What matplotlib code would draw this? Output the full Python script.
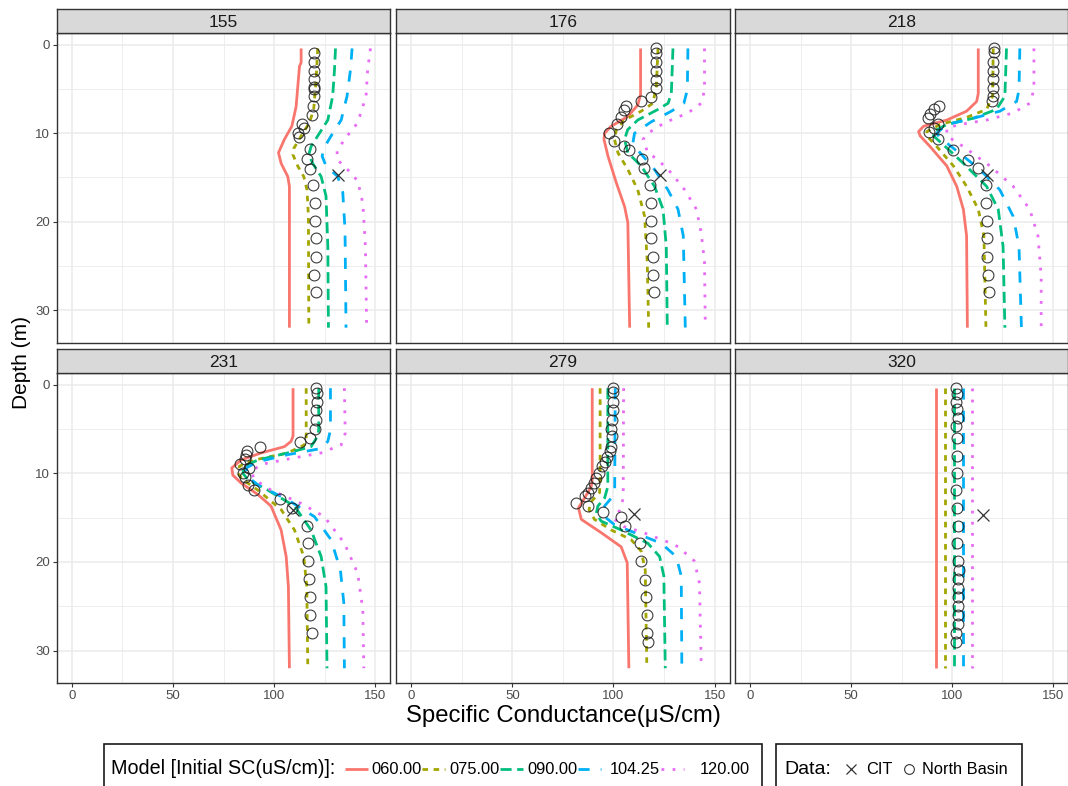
import matplotlib
matplotlib.use("Agg")
import matplotlib.pyplot as plt
from matplotlib.lines import Line2D
from matplotlib.patches import Rectangle

plt.rcParams['font.family'] = ['Liberation Sans', 'DejaVu Sans']

# ---------------- data ----------------
panels = ["155", "176", "218", "231", "279", "320"]
models = ["060.00", "075.00", "090.00", "104.25", "120.00"]
colors = ["#F8766D", "#A3A500", "#00BF7D", "#00B0F6", "#E76BF3"]

# model curves: (depth m, specific conductance)
m155_060 = [(0.4,113.4),(2.0,113.4),(2.4,112.6),(7.0,110.9),(9.2,108.8),(10.7,105.1),(12.2,102.2),(13.4,103.5),(14.9,106.8),(16.0,107.6),(32.0,107.6)]
m155_075 = [(0.4,121.6),(4.0,120.8),(7.3,119.6),(8.8,117.5),(10.3,113.4),(11.7,109.8),(12.4,109.3),(13.7,111.7),(14.9,114.7),(16.4,116.3),(19.4,117.0),(32.0,117.2)]
m155_090 = [(0.4,130.4),(2.8,129.9),(5.8,129.0),(8.5,126.6),(10.3,121.6),(11.5,118.3),(12.4,117.2),(13.4,119.1),(14.9,123.3),(17.1,125.7),(22.8,126.6),(32.0,126.9)]
m155_104 = [(0.4,138.6),(2.8,137.8),(5.8,136.1),(8.5,133.2),(10.3,128.2),(11.7,124.6),(12.6,123.8),(13.7,125.7),(14.9,131.5),(16.7,134.0),(20.9,135.1),(32.0,135.6)]
m155_120 = [(0.4,147.7),(2.8,146.3),(5.8,145.5),(8.8,141.4),(10.7,134.8),(12.0,131.2),(13.0,131.2),(13.7,134.8),(15.4,141.4),(17.9,143.9),(22.8,145.2),(32.0,145.8)]

m176_060 = [(0.4,113.4),(5.6,113.4),(6.8,112.0),(8.1,107.1),(9.2,98.9),(10.0,95.6),(10.7,95.3),(12.6,97.3),(15.6,101.4),(18.3,105.5),(20.1,107.1),(32.0,108.0)]
m176_075 = [(0.4,122.0),(4.7,121.2),(6.6,119.5),(7.5,113.7),(8.5,105.5),(9.6,101.4),(10.7,100.5),(12.2,102.2),(14.1,107.1),(16.4,112.0),(19.4,115.4),(24.6,116.7),(32.0,117.4)]
m176_090 = [(0.4,129.4),(5.5,128.6),(6.6,127.0),(7.3,122.0),(8.5,112.0),(9.6,107.0),(10.7,105.5),(12.2,107.1),(13.7,113.7),(16.0,120.3),(18.6,124.5),(22.8,126.1),(32.0,126.6)]
m176_104 = [(0.4,136.8),(5.1,136.5),(6.6,134.8),(7.5,128.6),(8.7,118.7),(10.0,110.4),(11.1,109.6),(11.9,112.0),(14.1,120.3),(16.4,126.9),(18.6,131.9),(21.6,134.5),(32.0,135.5)]
m176_120 = [(0.4,145.0),(5.1,145.0),(6.6,143.4),(7.7,136.8),(8.8,125.3),(10.0,117.0),(10.7,114.6),(12.2,117.0),(13.0,122.0),(14.5,128.6),(16.4,135.2),(18.6,141.0),(21.3,143.4),(24.6,145.0),(32.0,145.4)]

m218_060 = [(0.4,113.0),(5.5,113.0),(6.4,112.2),(7.5,107.2),(8.5,97.4),(9.2,85.9),(9.8,83.4),(10.3,84.2),(11.5,89.1),(13.7,97.4),(16.0,102.3),(18.6,105.6),(21.6,107.2),(32.0,107.6)]
m218_075 = [(0.4,120.4),(5.8,120.1),(7.3,117.1),(8.2,107.2),(9.0,94.1),(9.8,87.5),(10.3,87.5),(11.5,92.4),(13.7,100.7),(16.0,107.2),(18.6,113.0),(21.6,115.8),(32.0,116.8)]
m218_090 = [(0.4,127.0),(5.8,126.2),(7.3,122.0),(8.3,110.5),(9.0,97.4),(9.8,90.8),(10.3,90.8),(11.3,95.7),(13.4,105.6),(16.0,117.1),(18.6,122.9),(22.8,125.3),(32.0,126.2)]
m218_104 = [(0.4,133.6),(5.1,133.2),(6.4,132.0),(7.5,123.7),(8.4,108.9),(9.0,97.4),(10.0,92.4),(10.5,94.0),(11.7,100.7),(14.1,113.8),(16.4,123.7),(19.4,130.3),(22.8,133.2),(32.0,134.4)]
m218_120 = [(0.4,140.6),(5.1,140.6),(6.6,138.5),(7.7,130.3),(8.5,117.1),(9.0,104.0),(9.4,97.4),(10.3,97.4),(11.5,105.6),(13.7,118.8),(16.0,130.3),(18.6,138.5),(21.6,142.6),(26.2,144.2),(32.0,144.2)]

m231_060 = [(0.4,109.4),(5.8,109.4),(6.4,108.4),(7.0,105.1),(7.7,93.6),(8.5,83.7),(9.4,79.1),(10.2,79.6),(11.1,83.7),(12.4,92.0),(13.7,98.5),(16.4,103.5),(19.4,106.0),(22.8,107.1),(32.0,107.6)]
m231_075 = [(0.4,115.9),(6.2,115.9),(6.8,115.0),(7.7,106.8),(8.5,90.3),(9.2,82.9),(10.0,82.1),(10.7,84.5),(11.9,92.0),(14.1,103.5),(16.4,110.1),(19.4,114.7),(22.8,116.2),(32.0,116.7)]
m231_090 = [(0.4,122.1),(5.1,122.1),(5.8,121.6),(7.0,118.3),(7.7,106.8),(8.5,92.0),(9.2,85.4),(10.0,84.6),(10.7,87.0),(11.9,96.9),(13.7,110.1),(16.4,118.3),(19.4,123.3),(22.8,125.7),(32.0,126.2)]
m231_104 = [(0.4,127.9),(5.1,127.9),(6.4,126.6),(7.2,123.3),(7.9,106.8),(8.7,92.0),(9.4,86.2),(10.4,87.0),(11.3,92.0),(13.0,106.8),(14.9,120.0),(17.5,128.2),(20.9,132.8),(24.6,134.5),(32.0,134.8)]
m231_120 = [(0.4,134.8),(5.5,135.2),(6.8,133.2),(7.7,123.3),(8.4,106.8),(9.0,93.6),(9.8,88.7),(10.7,90.3),(11.9,98.5),(13.4,113.4),(14.9,124.9),(17.9,134.8),(21.3,141.4),(25.4,143.9),(32.0,144.4)]

m279_060 = [(0.4,89.5),(10.7,89.5),(11.5,89.0),(12.8,85.7),(13.9,82.7),(15.2,84.1),(16.7,93.9),(18.3,103.8),(20.1,106.8),(32.0,107.6)]
m279_075 = [(0.4,93.4),(11.1,93.4),(12.2,93.1),(13.2,89.0),(14.1,87.9),(15.2,90.6),(16.4,98.9),(17.5,108.8),(18.8,113.7),(20.9,115.7),(32.0,116.5)]
m279_090 = [(0.4,97.2),(11.5,97.2),(12.8,95.6),(13.7,92.3),(14.5,91.5),(15.4,93.9),(16.4,103.8),(17.9,117.0),(19.4,122.8),(21.6,124.9),(32.0,125.6)]
m279_104 = [(0.4,100.9),(11.7,100.6),(12.8,98.9),(13.7,95.6),(14.9,95.6),(15.8,100.5),(16.7,110.4),(17.9,123.6),(19.4,131.0),(21.6,133.5),(32.0,133.8)]
m279_120 = [(0.4,105.0),(12.8,104.8),(14.0,103.5),(15.2,100.5),(16.0,105.0),(16.6,113.7),(17.9,128.5),(18.3,132.0),(19.9,140.0),(22.4,142.5),(32.0,143.4)]

m320_060 = [(0.4,92.1),(32.0,92.1)]
m320_075 = [(0.4,96.5),(32.0,96.5)]
m320_090 = [(0.4,101.0),(32.0,101.0)]
m320_104 = [(0.4,105.6),(32.0,105.6)]
m320_120 = [(0.4,110.0),(32.0,110.0)]

# North Basin observations
nb155_d = [0.9,1.9,2.9,3.9,4.8,5.0,5.8,6.9,7.9,8.9,9.4,10.0,10.4,11.8,12.9,14.0,15.8,17.9,19.9,21.9,24.0,26.0,28.0]
nb155_v = [120.0,119.9,119.9,120.0,120.0,119.6,120.0,119.1,118.8,113.7,115.0,112.0,112.4,117.6,116.3,118.0,119.1,120.3,120.5,120.6,120.6,120.0,120.6]
nb176_d = [0.4,0.9,1.9,2.9,4.0,4.9,5.9,6.3,6.9,7.4,8.2,8.9,10.0,10.9,11.4,11.9,12.9,13.9,15.8,17.9,19.9,21.9,24.0,26.0,28.0]
nb176_v = [120.8,120.8,120.8,120.8,121.1,120.8,118.7,113.4,106.3,105.2,103.8,101.8,98.0,100.2,105.2,107.5,114.0,115.0,118.0,118.7,118.4,118.7,119.5,119.5,119.8]
nb218_d = [0.4,0.75,1.9,2.9,3.9,4.9,5.8,6.3,6.9,7.3,7.8,8.3,8.9,9.4,9.8,10.7,11.9,13.0,13.9,15.8,17.9,19.9,21.9,24.0,26.0,28.0]
nb218_v = [120.9,120.9,120.4,120.4,120.4,120.4,120.1,119.6,93.6,90.8,89.1,88.3,92.8,90.8,88.8,92.8,100.7,107.7,113.0,116.6,116.6,117.1,117.1,117.4,117.9,118.4]
nb231_d = [0.4,0.9,1.9,2.9,4.0,5.0,6.0,6.5,7.0,7.5,7.9,8.4,8.9,9.4,10.0,10.4,11.3,11.9,12.9,13.9,15.9,17.9,19.9,21.9,24.0,26.0,28.0]
nb231_v = [120.8,121.1,121.1,120.8,120.8,120.3,118.0,113.0,93.3,86.7,86.2,85.7,83.4,87.8,84.5,85.4,87.0,90.0,102.7,108.9,116.3,117.0,117.0,117.2,117.8,118.0,118.8]
nb279_d = [0.4,0.87,1.9,2.9,4.0,5.0,5.8,7.0,7.5,8.2,8.7,9.2,10.0,10.5,11.1,11.7,12.2,12.6,13.4,13.7,14.4,14.9,16.0,17.9,19.9,22.0,24.0,26.0,28.0,29.0]
nb279_v = [99.7,99.7,99.7,100.0,99.2,98.9,99.2,98.6,98.1,96.9,95.6,94.3,92.6,91.5,90.3,89.0,87.3,85.7,81.6,87.3,94.8,103.5,105.5,112.9,113.7,115.7,116.2,116.7,116.7,117.3]
nb320_d = [0.4,1.1,1.9,2.8,3.8,4.7,6.0,8.0,10.0,11.9,13.9,16.0,17.9,19.9,20.9,21.9,23.0,24.0,25.0,26.0,27.0,28.0,29.0]
nb320_v = [102.2,102.5,102.2,102.5,102.8,102.2,102.5,102.5,102.5,102.2,102.5,102.8,102.5,103.1,103.3,102.8,102.8,103.1,102.8,103.1,102.8,102.2,102.2]

# CIT observations (one per panel)
cit_d = [14.75, 14.75, 14.75, 14.1, 14.6, 14.75]
cit_v = [131.8, 122.8, 117.1, 109.4, 110.1, 115.1]

x_ticks = [0, 50, 100, 150]
y_ticks = [0, 10, 20, 30]

model_curves = {
    "155": [m155_060, m155_075, m155_090, m155_104, m155_120],
    "176": [m176_060, m176_075, m176_090, m176_104, m176_120],
    "218": [m218_060, m218_075, m218_090, m218_104, m218_120],
    "231": [m231_060, m231_075, m231_090, m231_104, m231_120],
    "279": [m279_060, m279_075, m279_090, m279_104, m279_120],
    "320": [m320_060, m320_075, m320_090, m320_104, m320_120],
}
nb_obs = {
    "155": (nb155_d, nb155_v), "176": (nb176_d, nb176_v), "218": (nb218_d, nb218_v),
    "231": (nb231_d, nb231_v), "279": (nb279_d, nb279_v), "320": (nb320_d, nb320_v),
}

# ---------------- styling ----------------
dashes = [None, (2, 2), (4, 2), (4, 4), (1, 3)]
LW = 2.0
W, H = 1068, 786
fig = plt.figure(figsize=(W / 100, H / 100), dpi=100)

cols = [(56.7, 390.3), (396.0, 729.8), (735.3, 1068.0)]
rows = [(33.0, 342.7), (372.7, 683.3)]
strip_tops = [9.0, 349.0]

def fig_rect(x0, x1, ytop, ybot):
    return [x0 / W, 1 - ybot / H, (x1 - x0) / W, (ybot - ytop) / H]

grid_c = "#EBEBEB"
border_c = "#333333"
tick_c = "#4D4D4D"

for i, name in enumerate(panels):
    r, c = divmod(i, 3)
    x0, x1 = cols[c]
    yt, yb = rows[r]
    ax = fig.add_axes(fig_rect(x0, x1, yt, yb))
    ax.set_xlim(-7.5, 157.5)
    ax.set_ylim(33.7, -1.35)
    ax.set_xticks(x_ticks)
    ax.set_yticks(y_ticks)
    ax.set_xticks([25, 75, 125], minor=True)
    ax.set_yticks([5, 15, 25], minor=True)
    ax.grid(True, which="major", color=grid_c, lw=1.1)
    ax.grid(True, which="minor", color=grid_c, lw=0.6)
    ax.set_axisbelow(True)
    for s in ax.spines.values():
        s.set_color(border_c)
        s.set_linewidth(1.0)
    ax.tick_params(which="minor", length=0)
    ax.tick_params(which="major", length=3, width=0.8, color=border_c,
                   labelsize=9.5, labelcolor=tick_c, pad=2)
    if c != 0:
        ax.tick_params(axis="y", left=False, labelleft=False)
    if r != 1:
        ax.tick_params(axis="x", bottom=False, labelbottom=False)

    for k, curve in enumerate(model_curves[name]):
        d = [p[0] for p in curve]
        v = [p[1] for p in curve]
        ln, = ax.plot(v, d, color=colors[k], lw=LW, solid_capstyle="butt",
                      dash_capstyle="butt", zorder=2)
        if dashes[k] is not None:
            ln.set_dashes(dashes[k])

    dd, vv = nb_obs[name]
    ax.plot(vv, dd, linestyle="none", marker="o", ms=7.8, mfc="none",
            mec="#1a1a1a", mew=0.8, alpha=0.85, zorder=3)
    ax.plot([cit_v[i]], [cit_d[i]], linestyle="none", marker="x", ms=8,
            mec="#333333", mew=0.9, zorder=3)

    # strip
    sax = fig.add_axes(fig_rect(x0, x1, strip_tops[r], yt))
    sax.set_facecolor("#D9D9D9")
    sax.set_xticks([])
    sax.set_yticks([])
    for s in sax.spines.values():
        s.set_color(border_c)
        s.set_linewidth(1.0)
    sax.text(0.5, 0.45, name, ha="center", va="center", fontsize=12.5,
             color="#1A1A1A", transform=sax.transAxes)

# axis titles
fig.text(563 / W, 1 - 716 / H, "Specific Conductance(μS/cm)", ha="center",
         va="center", fontsize=17.2)
fig.text(22 / W, 1 - 362 / H, "Depth (m)", ha="center", va="center",
         fontsize=15, rotation=90)

# ---------------- legends (drawn manually in figure pixels) ----------------
def px(x, y):
    return x / W, 1 - y / H

box_top = 743.5
fig.patches.append(Rectangle(px(104, 800), (762 - 104) / W, (800 - box_top) / H,
                             transform=fig.transFigure, fill=False,
                             ec="#1A1A1A", lw=1.2))
fig.patches.append(Rectangle(px(776, 800), (1022 - 776) / W, (800 - box_top) / H,
                             transform=fig.transFigure, fill=False,
                             ec="#1A1A1A", lw=1.2))
ly = 769
fig.text(*px(111, ly), "Model [Initial SC(uS/cm)]:", ha="left", va="center",
         fontsize=14.2)
key_x = [345, 422, 500, 578, 661]
lab_x = [371, 449, 527, 610, 700]
for k in range(5):
    kx = key_x[k]
    ln = Line2D([kx / W, (kx + 23) / W], [1 - ly / H, 1 - ly / H],
                transform=fig.transFigure, color=colors[k], lw=LW,
                solid_capstyle="butt", dash_capstyle="butt")
    if dashes[k] is not None:
        ln.set_dashes(dashes[k])
    fig.add_artist(ln)
    fig.text(*px(lab_x[k], ly), models[k], ha="left", va="center", fontsize=11.8)

fig.text(*px(784, ly), "Data:", ha="left", va="center", fontsize=14)
fig.add_artist(Line2D([851 / W], [1 - ly / H], transform=fig.transFigure,
                      marker="x", ms=7, mec="#333333", mew=0.9, linestyle="none"))
fig.text(*px(866, ly), "CIT", ha="left", va="center", fontsize=11.8)
fig.add_artist(Line2D([909 / W], [1 - ly / H], transform=fig.transFigure,
                      marker="o", ms=7, mfc="none", mec="#333333", mew=0.8,
                      linestyle="none"))
fig.text(*px(922, ly), "North Basin", ha="left", va="center", fontsize=11.8)

fig.savefig("out.png", dpi=100)
